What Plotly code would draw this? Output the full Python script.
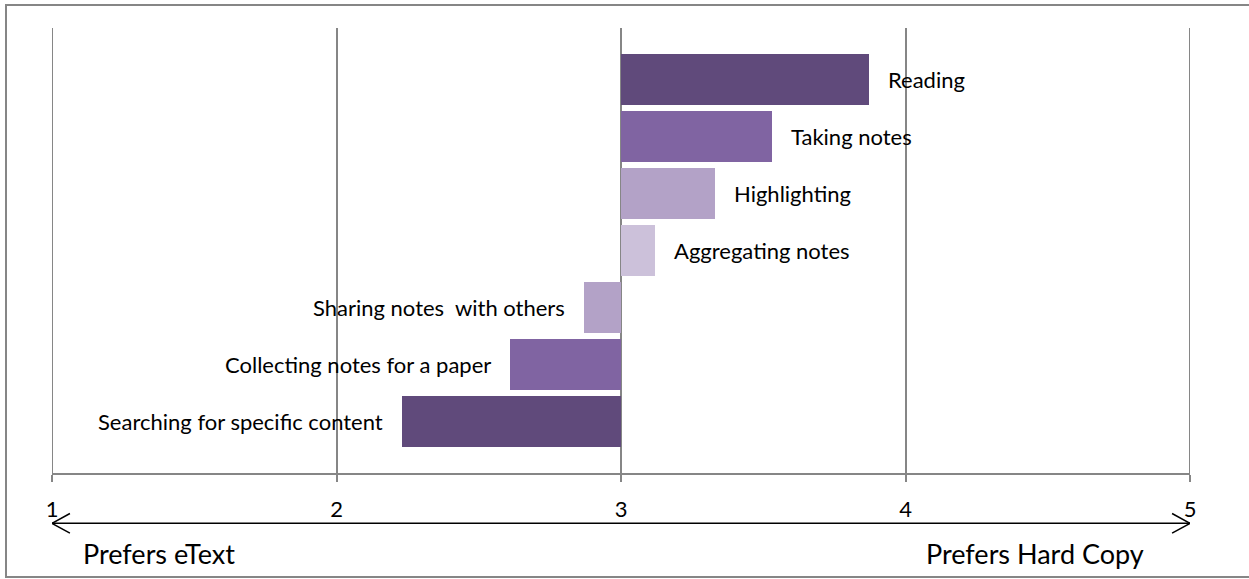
import plotly.graph_objects as go

categories = ["Searching for specific content", "Collecting notes for a paper",
              "Sharing notes  with others", "Aggregating notes", "Highlighting",
              "Taking notes", "Reading"]
scores = [2.23, 2.61, 2.87, 3.12, 3.33, 3.53, 3.87]
colors = ["#604A7B", "#8064A2", "#B3A2C7", "#CCC1DA", "#B3A2C7", "#8064A2", "#604A7B"]
neutral = 3
tick_vals = [1, 2, 3, 4, 5]
tick_text = ["1", "2", "3", "4", "5"]
left_label = "Prefers eText"
right_label = "Prefers Hard Copy"

FONT = "Lato, Calibri, Carlito, sans-serif"
GRID = "#868686"

fig = go.Figure()
fig.add_trace(go.Bar(
    y=categories,
    x=[s - neutral for s in scores],
    base=[neutral] * len(scores),
    orientation="h",
    marker=dict(color=colors, line=dict(width=0)),
    width=0.895,
    hoverinfo="skip",
))

for cat, s in zip(categories, scores):
    pos = s >= neutral
    fig.add_annotation(
        x=s, y=cat, xref="x", yref="y",
        text=cat, showarrow=False,
        xanchor="left" if pos else "right",
        xshift=17 if pos else -17,
        font=dict(family=FONT, size=22, color="#000000"),
    )

# edge gridlines (Plotly drops gridlines lying on the plot edges)
for v in (tick_vals[0], tick_vals[-1]):
    fig.add_shape(type="line", xref="x", yref="paper", x0=v, x1=v, y0=0, y1=1,
                  line=dict(color=GRID, width=2), layer="below")

# horizontal double arrow under the axis
ay = -0.113
dx = 0.063
dy = 0.022
fig.add_shape(type="line", xref="x", yref="paper", x0=tick_vals[0], x1=tick_vals[-1],
              y0=ay, y1=ay, line=dict(color="#000000", width=1.5))
fig.add_shape(type="path", xref="x", yref="paper",
              path=f"M {tick_vals[0]+dx},{ay+dy} L {tick_vals[0]},{ay} L {tick_vals[0]+dx},{ay-dy}",
              line=dict(color="#000000", width=1.5))
fig.add_shape(type="path", xref="x", yref="paper",
              path=f"M {tick_vals[-1]-dx},{ay+dy} L {tick_vals[-1]},{ay} L {tick_vals[-1]-dx},{ay-dy}",
              line=dict(color="#000000", width=1.5))

fig.add_annotation(x=tick_vals[0], y=-0.18, xref="x", yref="paper", text=left_label,
                   showarrow=False, xanchor="left", yanchor="middle", xshift=29,
                   font=dict(family=FONT, size=27, color="#000000"))
fig.add_annotation(x=tick_vals[-1], y=-0.18, xref="x", yref="paper", text=right_label,
                   showarrow=False, xanchor="right", yanchor="middle", xshift=-44,
                   font=dict(family=FONT, size=27, color="#000000"))

# outer border
fig.add_shape(type="rect", xref="paper", yref="paper",
              x0=-46/1138, x1=1.1, y0=-104/445, y1=1+23/445,
              line=dict(color=GRID, width=2), layer="below")

fig.update_layout(
    width=1249, height=579,
    margin=dict(l=52, r=59, t=28, b=106),
    paper_bgcolor="white", plot_bgcolor="white",
    showlegend=False,
    bargap=0,
    xaxis=dict(
        range=[1, 5], tickvals=tick_vals, ticktext=tick_text,
        showgrid=True, gridcolor=GRID, gridwidth=2,
        showline=True, linecolor=GRID, linewidth=2,
        ticks="outside", ticklen=7, tickwidth=2, tickcolor=GRID,
        tickfont=dict(family=FONT, size=22, color="#000000"),
        ticklabelstandoff=9,
        zeroline=False, fixedrange=True,
    ),
    yaxis=dict(
        range=[-0.91, 6.9], showticklabels=False, showgrid=False,
        showline=False, ticks="", zeroline=False, fixedrange=True,
    ),
)

fig.write_html("out.html")
